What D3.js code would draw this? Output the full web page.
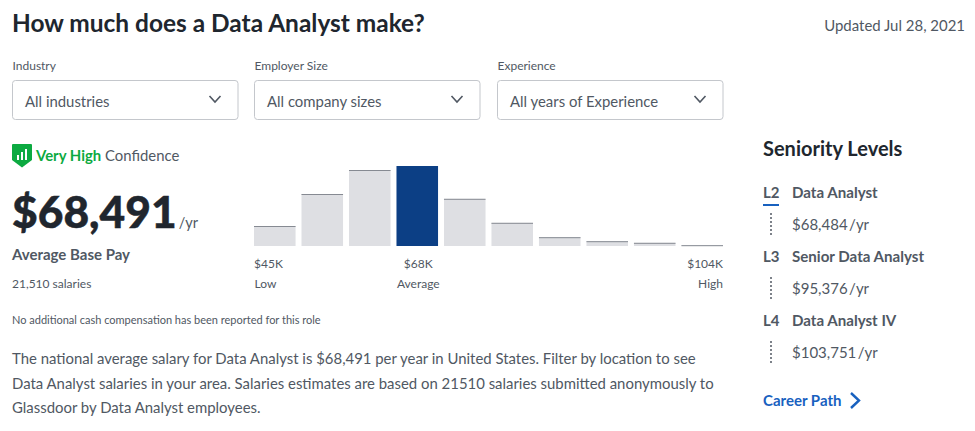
<!DOCTYPE html>
<html>
<head>
<meta charset="utf-8">
<script src="https://cdn.jsdelivr.net/npm/d3@7"></script>
<style>
html, body { margin: 0; padding: 0; background: #fff; overflow: hidden; }
text { font-family: Lato, "Open Sans", sans-serif; }
</style>
</head>
<body>
<script>
// histogram of salaries, heights as percent of the tallest bin
var bins = ["b1", "b2", "b3", "b4", "b5", "b6", "b7", "b8", "b9", "b10"];
var binValues = [25, 65, 95, 100, 59, 29, 11, 6, 4, 1];
var averageBin = "b4";

var filterLabels = ["Industry", "Employer Size", "Experience"];
var filterValues = ["All industries", "All company sizes", "All years of Experience"];

var levels = ["L2", "L3", "L4"];
var levelTitles = ["Data Analyst", "Senior Data Analyst", "Data Analyst IV"];
var levelPay = ["$68,484", "$95,376", "$103,751"];

var paragraph = [
	"The national average salary for Data Analyst is $68,491 per year in United States. Filter by location to see",
	"Data Analyst salaries in your area. Salaries estimates are based on 21510 salaries submitted anonymously to",
	"Glassdoor by Data Analyst employees."
];

var width = 975;
var height = 431;

var svg = d3.select("body").append("svg")
	.attr("width", width)
	.attr("height", height)
	.style("display", "block");

function label(x, y, str, size, color, weight, anchor) {
	return svg.append("text")
		.attr("x", x)
		.attr("y", y)
		.attr("font-size", size + "px")
		.attr("fill", color)
		.attr("font-weight", weight || 400)
		.attr("text-anchor", anchor || "start")
		.text(str);
}

var dark = "#20262e";
var grey = "#505863";
var blue = "#1861bf";

// header
label(12, 32, "How much does a Data Analyst make?", 24.45, dark, 700);
label(965, 31, "Updated Jul 28, 2021", 14.95, grey, 400, "end");

// filter boxes
var boxX = [12, 254, 497];
filterLabels.forEach(function(d, i) {
	label(boxX[i] + 0.5, 70, d, 12, grey);
	svg.append("rect")
		.attr("x", boxX[i] + 0.5)
		.attr("y", 80.5)
		.attr("width", 225.5)
		.attr("height", 39)
		.attr("rx", 3)
		.attr("fill", "#fff")
		.attr("stroke", "#c4c7cc");
	label(boxX[i] + 13, 107, filterValues[i], 14.9, grey);
	var cx = boxX[i] + 203;
	svg.append("path")
		.attr("d", "M" + (cx - 5.5) + ",96 L" + cx + ",102 L" + (cx + 5.5) + ",96")
		.attr("fill", "none")
		.attr("stroke", grey)
		.attr("stroke-width", 1.6);
});

// confidence badge
svg.append("path")
	.attr("d", "M13,144 H31 Q32,144 32,145 V160 L22,167.5 L12,160 V145 Q12,144 13,144 Z")
	.attr("fill", "#0caa41");
[[17, 155, 2], [21, 152, 2], [25, 149, 2]].forEach(function(b) {
	svg.append("rect")
		.attr("x", b[0])
		.attr("y", b[1])
		.attr("width", b[2])
		.attr("height", 160 - b[1])
		.attr("fill", "#fff");
});
var conf = label(36, 161, "", 14.9, grey);
conf.append("tspan").attr("fill", "#0caa41").attr("font-weight", 700).text("Very High");
conf.append("tspan").text(" Confidence");

// headline number
var pay = label(12, 228, "", 44.3, dark, 900)
	.attr("stroke", dark)
	.attr("stroke-width", 0.5);
pay.append("tspan").text("$68,491");
pay.append("tspan")
	.attr("dx", 2)
	.attr("font-size", "14.5px")
	.attr("font-weight", 400)
	.attr("fill", grey)
	.attr("stroke", "none")
	.text("/yr");
label(12, 260, "Average Base Pay", 15, grey, 700);
label(12, 288, "21,510 salaries", 12, grey);
label(12, 324, "No additional cash compensation has been reported for this role", 11, grey);

// histogram
var x = d3.scaleBand()
	.domain(bins)
	.range([254, 723])
	.paddingInner(0.125)
	.paddingOuter(0);

var y = d3.scaleLinear()
	.domain([0, 100])
	.range([246, 166]);

svg.selectAll("rect.bin")
	.data(bins)
	.enter()
	.append("rect")
	.attr("class", "bin")
	.attr("x", function(d) { return x(d); })
	.attr("y", function(d, i) { return y(binValues[i]); })
	.attr("width", x.bandwidth())
	.attr("height", function(d, i) { return y(0) - y(binValues[i]); })
	.attr("fill", function(d) { return d === averageBin ? "#0c3f85" : "#dedfe3"; });

svg.selectAll("line.cap")
	.data(bins.filter(function(d) { return d !== averageBin; }))
	.enter()
	.append("line")
	.attr("class", "cap")
	.attr("x1", function(d) { return x(d); })
	.attr("x2", function(d) { return x(d) + x.bandwidth(); })
	.attr("y1", function(d) { return y(binValues[bins.indexOf(d)]) + 0.5; })
	.attr("y2", function(d) { return y(binValues[bins.indexOf(d)]) + 0.5; })
	.attr("stroke", "#868a92")
	.attr("stroke-width", 1);

label(x("b1"), 268, "$45K", 12, grey);
label(x("b1") + 0.5, 288, "Low", 12, grey);
label(x("b4") + x.bandwidth() / 2 + 1, 268, "$68K", 12, grey, 400, "middle");
label(x("b4") + x.bandwidth() / 2 + 1, 288, "Average", 12, grey, 400, "middle");
label(723, 268, "$104K", 12, grey, 400, "end");
label(723, 288, "High", 12, grey, 400, "end");

// description
paragraph.forEach(function(d, i) {
	label(12, 364 + i * 24.5, d, 14.92, grey);
});

// seniority levels
label(763, 156, "Seniority Levels", 20, dark, 700);

levels.forEach(function(d, i) {
	var top = 198 + i * 64;
	label(763, top, d, 15, grey, 700);
	label(792, top, levelTitles[i], 15.1, grey, 700);
	var p = label(792, top + 32, levelPay[i], 15, grey);
	p.append("tspan").attr("dx", 1.5).text("/yr");
	svg.append("line")
		.attr("x1", 771)
		.attr("x2", 771)
		.attr("y1", top + 15)
		.attr("y2", top + 39)
		.attr("stroke", "#7d828a")
		.attr("stroke-width", 2)
		.attr("stroke-dasharray", "2,2");
});
svg.append("rect")
	.attr("x", 763)
	.attr("y", 204)
	.attr("width", 16)
	.attr("height", 2)
	.attr("fill", blue);

label(763, 406, "Career Path", 15, blue, 700);
svg.append("path")
	.attr("d", "M851,393 L859,400.5 L851,408")
	.attr("fill", "none")
	.attr("stroke", blue)
	.attr("stroke-width", 2.4);
</script>
</body>
</html>
